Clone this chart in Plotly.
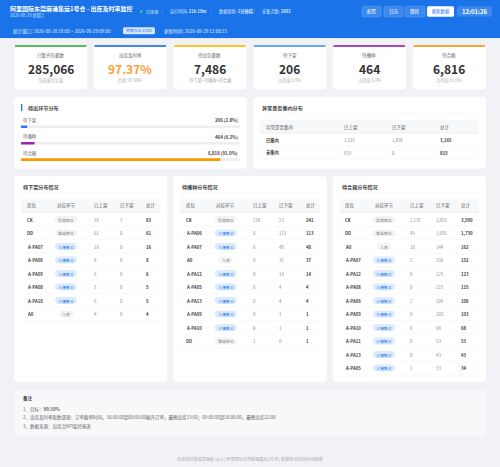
import plotly.graph_objects as go

FONT = 'Noto Sans CJK SC'
BLUE = '#1a73e8'

# KPI cards
kpi_labels = ['已集齐包裹数', '出库及时率', '待出包裹数', '待下架', '待播种', '待合箱']
kpi_values = ['285,066', '97.37%', '7,486', '206', '464', '6,816']
kpi_notes = ['当前波次总量', '目标 99.50%', '待下架+待播种+待合箱', '占待出 2.8%', '占待出 6.2%', '占待出 91.0%']
kpi_stripes = ['#5cb85c', '#4285f4', '#f9c22e', '#6ba5f5', '#ab47bc', '#f9a93a']
kpi_left = [14, 93.5, 173, 253, 332.5, 412.5]

# waiting stage distribution
stage_names = ['待下架', '待播种', '待合箱']
stage_counts = [206, 464, 6816]
stage_pct = [2.8, 6.2, 91.0]
stage_colors = ['#2979ff', '#9c27b0', '#ff9800']

# exception table
exc_header = ['异常是否集内', '已上架', '已下架', '总计']
exc_rows = [['已集内', '1,315', '1,850', '3,165'],
            ['未集内', '819', '0', '819']]

# the three location tables
table_header = ['库位', '对应环节', '已上架', '已下架', '总计']
down_rows = [
    ['CK', '异常库位', 76, 7, 83],
    ['DD', '堆垛库位', 61, 0, 61],
    ['A-PA07', '三楼集合', 16, 0, 16],
    ['A-PA06', '三楼集合', 8, 0, 8],
    ['A-PA09', '三楼集合', 6, 0, 6],
    ['A-PA08', '三楼集合', 5, 0, 5],
    ['A-PA10', '三楼集合', 5, 0, 5],
    ['A0', '入库', 4, 0, 4],
]
sow_rows = [
    ['CK', '异常库位', 218, 23, 241],
    ['A-PA06', '三楼集合', 0, 113, 113],
    ['A-PA07', '三楼集合', 0, 48, 48],
    ['A0', '入库', 0, 37, 37],
    ['A-PA12', '三楼集合', 0, 14, 14],
    ['A-PA05', '三楼集合', 0, 4, 4],
    ['A-PA13', '三楼集合', 0, 4, 4],
    ['A-PA09', '三楼集合', 0, 1, 1],
    ['A-PA10', '三楼集合', 0, 1, 1],
    ['DD', '堆垛库位', 1, 0, 1],
]
box_rows = [
    ['CK', '异常库位', 2137, 1853, 3990],
    ['DD', '堆垛库位', 45, 1685, 1730],
    ['A0', '入库', 18, 144, 162],
    ['A-PA07', '三楼集合', 2, 150, 152],
    ['A-PA12', '三楼集合', 0, 123, 123],
    ['A-PA08', '三楼集合', 0, 115, 115],
    ['A-PA06', '三楼集合', 2, 104, 106],
    ['A-PA09', '三楼集合', 0, 103, 103],
    ['A-PA10', '三楼集合', 0, 68, 68],
    ['A-PA11', '三楼集合', 0, 53, 53],
    ['A-PA13', '三楼集合', 0, 43, 43],
    ['A-PA05', '三楼集合', 1, 33, 34],
]

notes = [
    '1、目标：<b>99.50%</b>',
    '2、出库及时率取数逻辑：订单截单时间，18:00:00到09:00:00截齐订单，最晚出库13:00；09:00:00到18:00:00，最晚出库22:00',
    '3、数据来源：出库合KPI监控报表',
]

fig = go.Figure()
shapes = []
annotations = []


def text(x, y, s, size=4.5, color='#333', anchor='left', bold=False):
    annotations.append(dict(
        x=x, y=y, xref='x', yref='y', text=f'<b>{s}</b>' if bold else s,
        showarrow=False, xanchor=anchor, yanchor='middle',
        font=dict(family=FONT, size=size, color=color),
    ))


def rect(x0, y0, x1, y1, fill, line=None):
    shapes.append(dict(
        type='rect', xref='x', yref='y', x0=x0, y0=y0, x1=x1, y1=y1,
        fillcolor=fill, line=dict(width=0.5 if line else 0, color=line or fill), layer='below',
    ))


def round_rect(x0, y0, x1, y1, fill, r=3, line=None):
    path = (f'M{x0 + r},{y0} L{x1 - r},{y0} Q{x1},{y0} {x1},{y0 + r} '
            f'L{x1},{y1 - r} Q{x1},{y1} {x1 - r},{y1} '
            f'L{x0 + r},{y1} Q{x0},{y1} {x0},{y1 - r} '
            f'L{x0},{y0 + r} Q{x0},{y0} {x0 + r},{y0} Z')
    shapes.append(dict(
        type='path', xref='x', yref='y', path=path, fillcolor=fill,
        line=dict(width=0.5 if line else 0, color=line or fill), layer='below',
    ))


def hline(x0, x1, y, color='#f2f2f2', width=0.5):
    shapes.append(dict(type='line', xref='x', yref='y', x0=x0, x1=x1, y0=y, y1=y,
                       line=dict(color=color, width=width), layer='below'))


def card(x0, y0, x1, y1):
    round_rect(x0, y0, x1, y1, '#ffffff', line='#f0f1f4')


def location_table(left, right, cols, title, rows):
    card(left - 7, 176, right + 7, 382)
    text(left, 186.5, title, size=5.1, color='#444', bold=True)
    hline(left, right, 193)
    rect(left, 199, right, 212, '#f7f8fa')
    hline(left, right, 212, color='#e8e8e8', width=0.7)
    for col, head in zip(cols, table_header):
        text(col, 205.5, head, size=4.5, color='#555', anchor='center' if col == cols[1] else 'left')
    for i, row in enumerate(rows):
        y = 219.5 + 13.5 * i
        hline(left, right, y + 6.7)
        text(cols[0], y, row[0], size=4.3, color='#444', bold=True)
        # pill for the stage column
        is_group = row[1] == '三楼集合'
        half = 7 if row[1] == '入库' else 11
        round_rect(cols[1] - half, y - 3.4, cols[1] + half, y + 3.4,
                   '#dcecfd' if is_group else '#f3f3f3', r=3.4)
        text(cols[1], y, row[1], size=3.9, color=BLUE if is_group else '#777', anchor='center')
        text(cols[2], y, f'{row[2]:,}', size=4.3, color='#888')
        text(cols[3], y, f'{row[3]:,}', size=4.3, color='#888')
        text(cols[4], y, f'{row[4]:,}', size=4.3, color='#444', bold=True)


# header
rect(0, 0, 500, 38, BLUE)
rect(0, 38, 500, 39, '#e4e8ee')
text(8, 8.8, '阿里国际东莞麻涌集运1号仓 - 出库及时率监控', size=6, color='#fff', bold=True)
text(8, 15.6, '2026-08-29 星期六', size=4.2, color='#cfe2fb')
shapes.append(dict(type='circle', xref='x', yref='y', x0=140, x1=142.4, y0=10.3, y1=12.7,
                   fillcolor='#4cd964', line=dict(width=0), layer='below'))
text(144, 11.5, '已连接', size=4.1, color='#d6f5dd')
text(168, 11.5, '运行时间: <b>21h 19m</b>', size=4.2, color='#dbe9fd')
text(217, 11.5, '数据更新: <b>1分钟前</b>', size=4.2, color='#dbe9fd')
text(260, 11.5, '采集次数: <b>2692</b>', size=4.2, color='#dbe9fd')
for sx in [162, 211, 254.5]:
    shapes.append(dict(type='line', xref='x', yref='y', x0=sx, x1=sx, y0=9, y1=14,
                       line=dict(color='#5f9ef0', width=0.5), layer='below'))
for x0, x1, label in [(362, 381, '配置'), (384, 403, '日志'), (405, 425, '跳转')]:
    round_rect(x0, 6.2, x1, 16.8, '#3d88ec', r=1.5, line='#6aa4f0')
    text((x0 + x1) / 2, 11.5, label, size=4.5, color='#fff', anchor='center')
round_rect(427, 6.2, 454, 16.8, '#ffffff', r=1.5)
text(440.5, 11.5, '刷新数据', size=4.3, color=BLUE, anchor='center')
round_rect(457, 6.2, 492, 16.8, '#3d88ec', r=2)
text(474.5, 11.5, '12:01:26', size=6, color='#fff', anchor='center', bold=True)
text(11, 31, '统计窗口: 2026-08-28 18:00 ~ 2026-08-29 09:00', size=4.6, color='#e3eefd')
round_rect(123, 27.3, 155, 34.3, '#d7e7fb', r=1.5)
text(139, 30.8, '考核节点 13:00', size=3.8, color=BLUE, anchor='center')
text(162, 31, '更新时间: 2026-08-29 12:00:15', size=4.6, color='#e3eefd')

# KPI row
for left, label, value, note, stripe in zip(kpi_left, kpi_labels, kpi_values, kpi_notes, kpi_stripes):
    right = left + 73.5
    mid = left + 36.75
    card(left, 45, right, 89.5)
    rect(left + 1, 45, right - 1, 47, stripe)
    text(mid, 55, label, size=4.5, color='#666', anchor='center')
    text(mid, 68.5, value, size=12, color='#f9a03a' if label == '出库及时率' else '#333',
         anchor='center', bold=True)
    text(mid, 80.3, note, size=4.2, color='#aaa', anchor='center')

# stage distribution card
card(14, 97, 247, 169)
rect(21, 104, 22.3, 111, BLUE)
text(26, 107.5, '待出环节分布', size=5.1, color='#444', bold=True)
for i, name in enumerate(stage_names):
    y = 120.2 + 16.4 * i
    text(21, y, name, size=4.4, color='#666')
    text(240, y, f'{stage_counts[i]:,} ({stage_pct[i]}%)', size=4.4, color='#444', anchor='right', bold=True)

# bars for the stage shares, on their own axes
fig.add_trace(go.Bar(x=[100] * len(stage_names), y=stage_names, orientation='h', width=0.16,
                     marker=dict(color='#eeeeee', line_width=0), hoverinfo='skip',
                     xaxis='x2', yaxis='y2', showlegend=False))
fig.add_trace(go.Bar(x=stage_pct, y=stage_names, orientation='h', width=0.16,
                     marker=dict(color=stage_colors, line_width=0),
                     xaxis='x2', yaxis='y2', showlegend=False))

# exception card
card(253, 97, 486, 169)
text(260, 107.5, '异常是否集内分布', size=5.1, color='#444', bold=True)
hline(260, 479, 114.5)
rect(260, 120, 479, 133, '#f7f8fa')
hline(260, 479, 133, color='#e8e8e8', width=0.7)
exc_cols = [264, 342, 390, 438]
for col, head in zip(exc_cols, exc_header):
    text(col, 127, head, size=4.5, color='#555')
for i, row in enumerate(exc_rows):
    y = 140 + 12.6 * i
    hline(260, 479, y + 6.2)
    text(exc_cols[0], y, row[0], size=4.3, color='#444', bold=True)
    text(exc_cols[1], y, row[1], size=4.3, color='#888')
    text(exc_cols[2], y, row[2], size=4.3, color='#888')
    text(exc_cols[3], y, row[3], size=4.3, color='#444', bold=True)

location_table(21, 160.5, [25, 66, 92, 117.5, 144], '待下架分布情况', down_rows)
location_table(180, 320, [184, 225.7, 251, 277.3, 304.3], '待播种分布情况', sow_rows)
location_table(339.5, 479, [343.3, 384, 408, 433.7, 459.3], '待合箱分布情况', box_rows)

# notes and footer
round_rect(14, 390, 486, 436, '#f6f8fa')
text(21, 398.5, '备注', size=4.5, color='#444', bold=True)
for i, line in enumerate(notes):
    text(21, 409 + 8.5 * i, line, size=4.5, color='#666')
text(250, 459, '出库及时率监控面板 v1.0 | 阿里国际东莞麻涌集运1号仓 | 数据每30分钟自动刷新',
     size=4.15, color='#aaa', anchor='center')

hidden = dict(visible=False, fixedrange=True)
fig.update_layout(
    width=500, height=467, margin=dict(l=0, r=0, t=0, b=0),
    paper_bgcolor='#f0f2f5', plot_bgcolor='rgba(0,0,0,0)',
    barmode='overlay', showlegend=False,
    xaxis=dict(range=[0, 500], domain=[0, 1], **hidden),
    yaxis=dict(range=[467, 0], domain=[0, 1], **hidden),
    xaxis2=dict(range=[0, 100], domain=[21 / 500, 240 / 500], anchor='y2', **hidden),
    yaxis2=dict(autorange='reversed', domain=[1 - 167.8 / 467, 1 - 118.6 / 467], anchor='x2', **hidden),
    shapes=shapes, annotations=annotations,
)

fig.write_html('out.html', config=dict(displayModeBar=False),
               post_script="document.body.style.margin='0';")
